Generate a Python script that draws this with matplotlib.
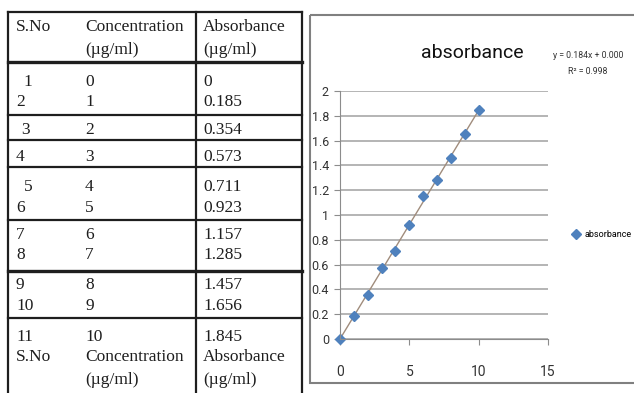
import numpy as np
import matplotlib.pyplot as plt
from matplotlib.patches import Rectangle

# table contents
sno = ['1', '2', '3', '4', '5', '6', '7', '8', '9', '10', '11']
conc = [0, 1, 2, 3, 4, 5, 6, 7, 8, 9, 10]
absorb = [0, 0.185, 0.354, 0.573, 0.711, 0.923, 1.157, 1.285, 1.457, 1.656, 1.845]
absorb_txt = ['0', '0.185', '0.354', '0.573', '0.711', '0.923',
              '1.157', '1.285', '1.457', '1.656', '1.845']
headers = ['S.No', 'Concentration', 'Absorbance']
units = '(\u00b5g/ml)'

# chart bits
r2 = 0.998
xticks = [0, 5, 10, 15]
yticks = [0, 0.2, 0.4, 0.6, 0.8, 1, 1.2, 1.4, 1.6, 1.8, 2]

W, H = 634, 393
fig = plt.figure(figsize=(6.34, 3.93), dpi=100)

serif = ['Liberation Serif', 'DejaVu Serif']
sans = ['Roboto', 'DejaVu Sans']
ink = '#1e1e1e'

# ---- table, drawn in pixel coords ----
tab = fig.add_axes([0, 0, 1, 1])
tab.set_xlim(0, W)
tab.set_ylim(H, 0)
tab.axis('off')

col_x = [16, 85, 203]
sno_x = [23, 16, 21, 16, 24, 16, 16, 16, 16, 16, 16]
row_y = [80, 100, 128, 155, 185, 206, 233, 253, 283, 304, 335]
hlines = [(12, 1.6), (62, 2.4), (115, 1.6), (140, 1.6), (167, 1.6),
          (220, 1.6), (271, 2.4), (318, 1.6)]

for y, lw in hlines:
    tab.plot([8, 302], [y, y], color=ink, lw=lw)
for x in [8, 196, 302]:
    tab.plot([x, x], [12, H], color=ink, lw=1.6)

fs = 12.5
for top in [25, 355]:
    for x, h in zip(col_x, headers):
        tab.text(x, top + 6, h, fontsize=fs, family=serif, color=ink, va='baseline')
    for x in col_x[1:]:
        tab.text(x, top + 29, units, fontsize=fs, family=serif, color=ink, va='baseline')

for i in range(len(sno)):
    y = row_y[i] + 6
    tab.text(sno_x[i], y, sno[i], fontsize=fs, family=serif, color=ink, va='baseline')
    tab.text(col_x[1], y, str(conc[i]), fontsize=fs, family=serif, color=ink, va='baseline')
    tab.text(col_x[2], y, absorb_txt[i], fontsize=fs, family=serif, color=ink, va='baseline')

# chart frame
tab.add_patch(Rectangle((310, 15), 340, 368, fill=False, edgecolor='#808080', lw=1.5))

# ---- scatter chart ----
ax = fig.add_axes([340 / W, 1 - 339 / H, (548 - 340) / W, (339 - 91) / H])
ax.set_xlim(0, 15)
ax.set_ylim(0, 2)
ax.set_xticks(xticks)
ax.set_yticks(yticks)
ax.set_yticklabels([f'{v:g}' for v in yticks])
ax.yaxis.grid(True, color='#a8a8a8', lw=1.2)
ax.set_axisbelow(True)
for s in ['top', 'right']:
    ax.spines[s].set_visible(False)
for s in ['left', 'bottom']:
    ax.spines[s].set_color('#8c8c8c')
ax.tick_params(axis='x', colors='#8c8c8c', labelcolor='#333333', length=4, pad=15, labelsize=10)
ax.tick_params(axis='y', colors='#8c8c8c', labelcolor='#333333', length=4, pad=4, labelsize=9)
for lab in ax.get_xticklabels() + ax.get_yticklabels():
    lab.set_family(sans)

slope, icpt = np.polyfit(conc, absorb, 1)
fx = np.array([0, max(conc)])
ax.plot(fx, slope * fx + icpt, color='#a08c7c', lw=1)
ax.plot(conc, absorb, 'D', color='#4f81bd', ms=5.5, label='absorbance', clip_on=False)

fig.text(472 / W, 1 - 53 / H, 'absorbance', ha='center', va='center',
         fontsize=14, family=sans, color='#111111')
fig.text(588 / W, 1 - 55 / H, 'y = %.3fx + %.3f' % (slope, abs(icpt)), ha='center', va='center',
         fontsize=6.3, family=sans, color='#333333')
fig.text(588 / W, 1 - 72 / H, 'R\u00b2 = %.3f' % r2, ha='center', va='center',
         fontsize=6.3, family=sans, color='#333333')

ax.legend(loc='center left', bbox_to_anchor=(568 / W, 1 - 235 / H), bbox_transform=fig.transFigure,
          frameon=False, handlelength=0.8, handletextpad=0.5, borderpad=0, numpoints=1,
          prop={'family': sans, 'size': 6.5})

fig.savefig('out.png', dpi=100)
